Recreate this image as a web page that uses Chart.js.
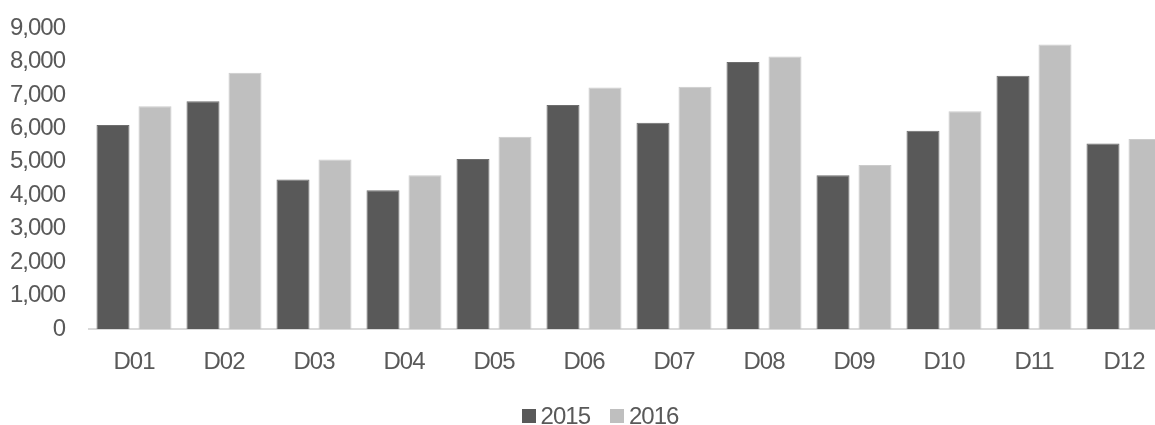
<!DOCTYPE html>
<html>
<head>
<meta charset="utf-8">
<script src="https://cdn.jsdelivr.net/npm/chart.js@4.4.1/dist/chart.umd.min.js"></script>
<style>
  html, body { margin: 0; padding: 0; background: #fff; overflow: hidden; }
  #wrap { position: relative; width: 1200px; height: 425px; }
  #legend {
    position: absolute; left: 0; top: 404px; width: 1200px;
    display: flex; justify-content: center; align-items: center;
    font-family: "Liberation Sans Narrow", "Arial Narrow", "Liberation Sans", Arial, sans-serif;
    font-size: 24px; line-height: 24px; color: #595959; letter-spacing: -1px;
  }
  .item { display: flex; align-items: center; }
  .item + .item { margin-left: 20px; }
  .box { width: 14px; height: 14px; margin-right: 5px; }
</style>
</head>
<body>
<div id="wrap">
  <canvas id="grafico" width="1200" height="425"></canvas>
  <div id="legend"></div>
</div>
<script>
const categorias = ['D01', 'D02', 'D03', 'D04', 'D05', 'D06', 'D07', 'D08', 'D09', 'D10', 'D11', 'D12'];
const valores2015 = [6100, 6810, 4470, 4150, 5080, 6700, 6170, 7980, 4600, 5930, 7570, 5550];
const valores2016 = [6660, 7660, 5070, 4600, 5750, 7220, 7240, 8150, 4900, 6510, 8510, 5680];
const ticksY = [0, 1000, 2000, 3000, 4000, 5000, 6000, 7000, 8000, 9000];

const cores = { '2015': '#595959', '2016': '#bfbfbf' };
const bordas = { '2015': '#6e6e6e', '2016': '#cccccc' };
const fonte = { family: '"Liberation Sans Narrow", "Arial Narrow", "Liberation Sans", Arial, sans-serif', size: 24 };

const ctx = document.getElementById('grafico').getContext('2d');

// texto mais apertado, para lembrar a fonte estreita do original
const textoEstreito = {
    id: 'textoEstreito',
    beforeDraw: (chart) => { chart.ctx.letterSpacing = '-1px'; }
};

new Chart(ctx, {
    type: 'bar',
    data: {
        labels: categorias,
        datasets: [
            { label: '2015', data: valores2015, backgroundColor: cores['2015'], borderColor: bordas['2015'], borderWidth: 1 },
            { label: '2016', data: valores2016, backgroundColor: cores['2016'], borderColor: bordas['2016'], borderWidth: 1 }
        ]
    },
    plugins: [textoEstreito],
    options: {
        responsive: false,
        animation: false,
        categoryPercentage: 0.9333,
        barPercentage: 0.786,
        layout: { padding: { top: 28, bottom: 49 } },
        plugins: {
            legend: { display: false },
            tooltip: { enabled: false }
        },
        scales: {
            x: {
                afterFit: (scale) => { scale.height = 47; },
                grid: { display: false, drawTicks: false },
                border: { display: true, color: '#d9d9d9', width: 2 },
                ticks: { color: '#595959', font: fonte, padding: 19, maxRotation: 0 }
            },
            y: {
                min: 0,
                max: 9000,
                afterBuildTicks: (scale) => { scale.ticks = ticksY.map(v => ({ value: v })); },
                afterFit: (scale) => {
                    scale.width = 89;
                    scale.paddingTop = 0;
                    scale.paddingBottom = 0;
                },
                grid: { display: false, drawTicks: false },
                border: { display: false },
                ticks: {
                    autoSkip: false,
                    color: '#595959', font: fonte, padding: 24,
                    callback: (v) => v.toLocaleString('en-US')
                }
            },
            direita: {
                position: 'right',
                afterFit: (scale) => {
                    scale.width = 31;
                    scale.paddingTop = 0;
                    scale.paddingBottom = 0;
                },
                grid: { display: false, drawTicks: false },
                border: { display: false },
                ticks: { display: false }
            }
        }
    }
});

// legenda em HTML
const legenda = document.getElementById('legend');
['2015', '2016'].forEach(ano => {
    const item = document.createElement('div');
    item.className = 'item';
    item.innerHTML = `<span class="box" style="background:${cores[ano]}"></span><span>${ano}</span>`;
    legenda.appendChild(item);
});
</script>
</body>
</html>
